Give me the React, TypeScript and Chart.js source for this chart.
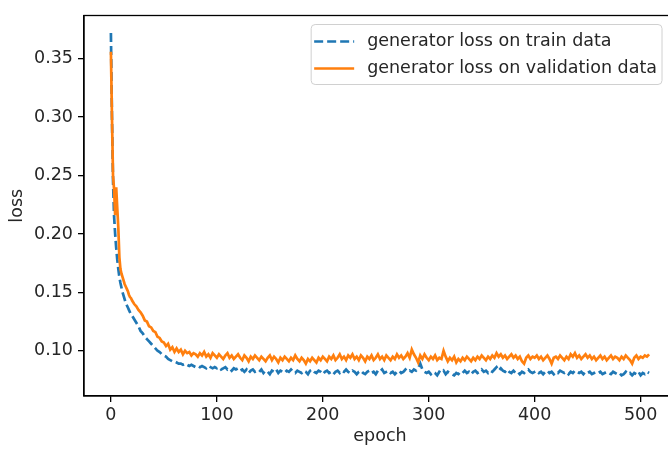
import React, { useEffect, useRef } from "react";
import { Chart, registerables } from "chart.js";

Chart.register(...registerables);

const epochs: number[] = [
  0, 1, 2, 3, 4, 5, 6, 7, 8, 9, 10, 11, 12, 13, 14, 15, 16, 17, 18, 19, 20,
  22, 24, 26, 28, 30, 32, 34, 36, 38, 40, 42, 44, 46, 48, 50, 52, 54, 56, 58, 60,
  62, 64, 66, 68, 70, 72, 74, 76, 78, 80,
  82, 84, 86, 88, 90, 92, 94, 96, 98, 100,
  102, 104, 106, 108, 110, 112, 114, 116, 118, 120,
  122, 124, 126, 128, 130, 132, 134, 136, 138, 140,
  142, 144, 146, 148, 150, 152, 154, 156, 158, 160,
  162, 164, 166, 168, 170, 172, 174, 176, 178, 180,
  182, 184, 186, 188, 190, 192, 194, 196, 198, 200,
  202, 204, 206, 208, 210, 212, 214, 216, 218, 220,
  222, 224, 226, 228, 230, 232, 234, 236, 238, 240,
  242, 244, 246, 248, 250, 252, 254, 256, 258, 260,
  262, 264, 266, 268, 270, 272, 274, 276, 278, 280,
  282, 284, 286, 288, 290, 292, 294, 296, 298, 300,
  302, 304, 306, 308, 310, 312, 314, 316, 318, 320,
  322, 324, 326, 328, 330, 332, 334, 336, 338, 340,
  342, 344, 346, 348, 350, 352, 354, 356, 358, 360,
  362, 364, 366, 368, 370, 372, 374, 376, 378, 380,
  382, 384, 386, 388, 390, 392, 394, 396, 398, 400,
  402, 404, 406, 408, 410, 412, 414, 416, 418, 420,
  422, 424, 426, 428, 430, 432, 434, 436, 438, 440,
  442, 444, 446, 448, 450, 452, 454, 456, 458, 460,
  462, 464, 466, 468, 470, 472, 474, 476, 478, 480,
  482, 484, 486, 488, 490, 492, 494, 496, 498, 500,
  502, 504, 506, 508,
];

const trainLoss: number[] = [
  0.372, 0.300, 0.245, 0.215, 0.200, 0.188, 0.178, 0.170, 0.163, 0.158, 0.154,
  0.150, 0.147, 0.144, 0.141, 0.139, 0.137, 0.135, 0.133, 0.131, 0.130,
  0.127, 0.124, 0.121, 0.117, 0.115, 0.112, 0.110, 0.108, 0.106, 0.104,
  0.102, 0.100, 0.099, 0.097, 0.096, 0.095, 0.093, 0.092, 0.091, 0.091,
  0.090, 0.089, 0.089, 0.088, 0.089, 0.088, 0.087, 0.088, 0.087, 0.086,
  0.087, 0.086, 0.087, 0.086, 0.085, 0.087, 0.086, 0.085, 0.086, 0.085,
  0.086, 0.084, 0.085, 0.086, 0.084, 0.085, 0.083, 0.085, 0.084, 0.085,
  0.083, 0.084, 0.082, 0.084, 0.081, 0.083, 0.084, 0.082, 0.083, 0.082,
  0.084, 0.081, 0.083, 0.082, 0.080, 0.083, 0.082, 0.084, 0.081, 0.083,
  0.082, 0.081, 0.083, 0.082, 0.084, 0.082, 0.081, 0.083, 0.082, 0.081,
  0.083, 0.082, 0.080, 0.083, 0.084, 0.082, 0.081, 0.083, 0.082, 0.080,
  0.082, 0.083, 0.081, 0.082, 0.080, 0.082, 0.083, 0.081, 0.083, 0.082,
  0.084, 0.082, 0.081, 0.083, 0.082, 0.080, 0.082, 0.083, 0.081, 0.080,
  0.082, 0.083, 0.081, 0.082, 0.080, 0.083, 0.082, 0.084, 0.081, 0.082,
  0.083, 0.081, 0.082, 0.080, 0.082, 0.083, 0.081, 0.082, 0.084, 0.082,
  0.083, 0.082, 0.084, 0.083, 0.085, 0.089, 0.084, 0.082, 0.081, 0.082,
  0.080, 0.082, 0.081, 0.079, 0.082, 0.081, 0.083, 0.080, 0.082, 0.081,
  0.080, 0.079, 0.081, 0.080, 0.082, 0.081, 0.083, 0.081, 0.082, 0.080,
  0.082, 0.083, 0.081, 0.082, 0.084, 0.082, 0.083, 0.081, 0.083, 0.082,
  0.084, 0.086, 0.083, 0.085, 0.083, 0.082, 0.084, 0.082, 0.081, 0.083,
  0.081, 0.082, 0.080, 0.082, 0.081, 0.083, 0.084, 0.082, 0.081, 0.082,
  0.083, 0.081, 0.082, 0.080, 0.082, 0.083, 0.081, 0.082, 0.080, 0.082,
  0.081, 0.083, 0.082, 0.081, 0.082, 0.080, 0.082, 0.081, 0.083, 0.082,
  0.081, 0.082, 0.080, 0.082, 0.081, 0.082, 0.080, 0.081, 0.082, 0.081,
  0.082, 0.080, 0.081, 0.082, 0.081, 0.080, 0.082, 0.081, 0.080, 0.081,
  0.079, 0.080, 0.082, 0.080, 0.081, 0.079, 0.081, 0.080, 0.082, 0.079,
  0.081, 0.080, 0.082, 0.081,
];

const validationLoss: number[] = [
  0.356, 0.300, 0.250, 0.238, 0.216, 0.240, 0.222, 0.205, 0.180, 0.170, 0.166,
  0.163, 0.160, 0.157, 0.155, 0.153, 0.151, 0.148, 0.146, 0.145, 0.143,
  0.140, 0.138, 0.135, 0.133, 0.130, 0.126, 0.125, 0.121, 0.120, 0.117,
  0.116, 0.112, 0.111, 0.108, 0.107, 0.104, 0.106, 0.101, 0.103, 0.099,
  0.102, 0.099, 0.101, 0.097, 0.100, 0.098, 0.099, 0.096, 0.098, 0.097,
  0.095, 0.098, 0.096, 0.099, 0.095, 0.097, 0.094, 0.098, 0.096, 0.094,
  0.097, 0.095, 0.093, 0.096, 0.098, 0.094, 0.096, 0.093, 0.095, 0.097,
  0.094, 0.092, 0.096, 0.094, 0.091, 0.095, 0.093, 0.096, 0.094, 0.092,
  0.095, 0.093, 0.091, 0.094, 0.096, 0.092, 0.095, 0.093, 0.090, 0.094,
  0.092, 0.095, 0.093, 0.091, 0.094, 0.092, 0.096, 0.093, 0.091, 0.094,
  0.092, 0.089, 0.093, 0.091, 0.094, 0.092, 0.090, 0.094, 0.092, 0.095,
  0.093, 0.091, 0.095, 0.093, 0.096, 0.092, 0.094, 0.097, 0.093, 0.095,
  0.092, 0.096, 0.094, 0.097, 0.093, 0.095, 0.092, 0.096, 0.094, 0.091,
  0.095, 0.093, 0.096, 0.092, 0.094, 0.097, 0.093, 0.095, 0.092, 0.096,
  0.094, 0.092, 0.095, 0.093, 0.097, 0.094, 0.096, 0.093, 0.095, 0.098,
  0.094, 0.101, 0.097, 0.094, 0.090, 0.096, 0.093, 0.097, 0.094, 0.092,
  0.095, 0.093, 0.096, 0.092, 0.094, 0.093, 0.100, 0.095, 0.091, 0.094,
  0.092, 0.095, 0.090, 0.093, 0.091, 0.094, 0.092, 0.095, 0.093, 0.091,
  0.094, 0.092, 0.095, 0.093, 0.096, 0.094, 0.092, 0.095, 0.093, 0.096,
  0.094, 0.098, 0.095, 0.097, 0.094, 0.096, 0.093, 0.095, 0.097, 0.094,
  0.096, 0.093, 0.095, 0.091, 0.089, 0.094, 0.096, 0.093, 0.095, 0.094,
  0.096, 0.093, 0.095, 0.092, 0.094, 0.096, 0.093, 0.089, 0.094, 0.095,
  0.093, 0.096, 0.094, 0.092, 0.095, 0.093, 0.097, 0.095, 0.098, 0.094,
  0.096, 0.093, 0.095, 0.097, 0.094, 0.096, 0.093, 0.095, 0.092, 0.094,
  0.096, 0.093, 0.095, 0.092, 0.094, 0.096, 0.093, 0.095, 0.094, 0.092,
  0.095, 0.093, 0.096, 0.094, 0.092, 0.089, 0.094, 0.096, 0.093, 0.095,
  0.094, 0.096, 0.095, 0.097,
];

const seriesLabels: string[] = [
  "generator loss on train data",
  "generator loss on validation data",
];

const yTickValues: number[] = [0.1, 0.15, 0.2, 0.25, 0.3, 0.35];
const xTickValues: number[] = [0, 100, 200, 300, 400, 500];

const FONT = "'DejaVu Sans', 'Liberation Sans', sans-serif";
const FONT_SIZE = 17.5;
const TEXT = "#262626";
const BLUE = "#1f77b4";
const ORANGE = "#ff7f0e";

const framePlugin = {
  id: "frame",
  afterDraw(chart: any) {
    const { ctx, chartArea } = chart;
    ctx.save();
    ctx.strokeStyle = "#000";
    ctx.lineWidth = 1.3;
    ctx.strokeRect(chartArea.left, chartArea.top, chartArea.right - chartArea.left, chartArea.bottom - chartArea.top);
    ctx.restore();
  },
};

const legendPlugin = {
  id: "mplLegend",
  afterDraw(chart: any) {
    const { ctx, chartArea } = chart;
    const ds = chart.data.datasets;
    ctx.save();
    ctx.font = `${FONT_SIZE}px ${FONT}`;
    let maxW = 0;
    ds.forEach((d: any) => {
      maxW = Math.max(maxW, ctx.measureText(d.label).width);
    });
    const boxW = 56 + maxW + 5;
    const boxH = 60;
    const right = chartArea.right - 14;
    const left = right - boxW;
    const top = chartArea.top + 9;
    const r = 4;
    ctx.beginPath();
    ctx.moveTo(left + r, top);
    ctx.lineTo(left + boxW - r, top);
    ctx.arcTo(left + boxW, top, left + boxW, top + r, r);
    ctx.lineTo(left + boxW, top + boxH - r);
    ctx.arcTo(left + boxW, top + boxH, left + boxW - r, top + boxH, r);
    ctx.lineTo(left + r, top + boxH);
    ctx.arcTo(left, top + boxH, left, top + boxH - r, r);
    ctx.lineTo(left, top + r);
    ctx.arcTo(left, top, left + r, top, r);
    ctx.closePath();
    ctx.fillStyle = "rgba(255,255,255,0.8)";
    ctx.fill();
    ctx.strokeStyle = "#d0d0d0";
    ctx.lineWidth = 1;
    ctx.stroke();
    ds.forEach((d: any, i: number) => {
      const y = top + 17 + i * 27;
      ctx.beginPath();
      ctx.setLineDash(d.borderDash || []);
      ctx.strokeStyle = d.borderColor;
      ctx.lineWidth = d.borderWidth;
      ctx.moveTo(left + 3, y);
      ctx.lineTo(left + 43, y);
      ctx.stroke();
      ctx.setLineDash([]);
      ctx.fillStyle = TEXT;
      ctx.textBaseline = "middle";
      ctx.textAlign = "left";
      ctx.fillText(d.label, left + 56, y);
    });
    ctx.restore();
  },
};

export default function App() {
  const canvasRef = useRef<HTMLCanvasElement | null>(null);

  useEffect(() => {
    if (!canvasRef.current) return;
    const chart = new Chart(canvasRef.current, {
      type: "line",
      data: {
        datasets: [
          {
            label: seriesLabels[0],
            data: epochs.map((e, i) => ({ x: e, y: trainLoss[i] })),
            borderColor: BLUE,
            backgroundColor: BLUE,
            borderWidth: 2.7,
            borderDash: [9, 4],
            pointRadius: 0,
            tension: 0,
            order: 1,
          },
          {
            label: seriesLabels[1],
            data: epochs.map((e, i) => ({ x: e, y: validationLoss[i] })),
            borderColor: ORANGE,
            backgroundColor: ORANGE,
            borderWidth: 2.7,
            pointRadius: 0,
            tension: 0,
            order: 0,
          },
        ],
      },
      options: {
        responsive: false,
        animation: false,
        devicePixelRatio: 1,
        layout: { padding: { top: 9, right: 14, left: 0, bottom: 0 } },
        plugins: { legend: { display: false }, tooltip: { enabled: false } },
        scales: {
          x: {
            type: "linear",
            min: -25.4,
            max: 533.4,
            afterFit: (s: any) => {
              s.height = 58;
            },
            afterBuildTicks: (s: any) => {
              s.ticks = xTickValues.map((v) => ({ value: v }));
            },
            ticks: {
              font: { family: FONT, size: FONT_SIZE },
              color: TEXT,
              padding: 3,
              maxRotation: 0,
              autoSkip: false,
              callback: (v: any) => String(v),
            },
            grid: { drawOnChartArea: false, drawTicks: true, tickLength: 6, color: "#000", lineWidth: 1.3 },
            border: { display: true, color: "#000", width: 1.3 },
            title: {
              display: true,
              text: "epoch",
              font: { family: FONT, size: FONT_SIZE },
              color: TEXT,
              padding: { top: 0, bottom: 7 },
            },
          },
          y: {
            type: "linear",
            min: 0.0613,
            max: 0.387,
            afterFit: (s: any) => {
              s.width = 84;
            },
            afterBuildTicks: (s: any) => {
              s.ticks = yTickValues.map((v) => ({ value: v }));
            },
            ticks: {
              font: { family: FONT, size: FONT_SIZE },
              color: TEXT,
              padding: 5,
              autoSkip: false,
              callback: (v: any) => Number(v).toFixed(2),
            },
            grid: { drawOnChartArea: false, drawTicks: true, tickLength: 6, color: "#000", lineWidth: 1.3 },
            border: { display: true, color: "#000", width: 1.3 },
            title: {
              display: true,
              text: "loss",
              font: { family: FONT, size: FONT_SIZE },
              color: TEXT,
              padding: { top: 7, bottom: 0 },
            },
          },
        },
      },
      plugins: [framePlugin, legendPlugin],
    });
    return () => chart.destroy();
  }, []);

  return (
    <div
      style={{
        position: "fixed",
        left: 0,
        top: 0,
        width: 668,
        height: 454,
        overflow: "hidden",
        background: "#fff",
      }}
    >
      <canvas ref={canvasRef} width={690} height={454} style={{ display: "block" }} />
    </div>
  );
}
